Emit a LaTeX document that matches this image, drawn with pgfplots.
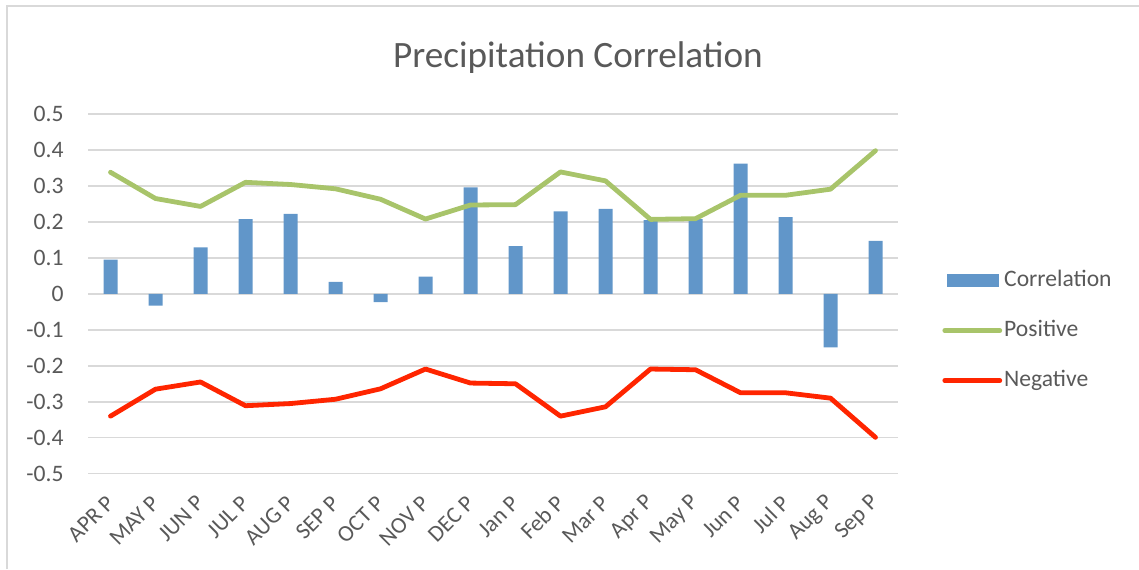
\documentclass[border=0pt]{standalone}
\usepackage{pgfplots}
\pgfplotsset{compat=1.18}
\usepackage{fontspec}
\setmainfont{Carlito}
\definecolor{barblue}{HTML}{6196C9}
\definecolor{posgreen}{HTML}{A8C46A}
\definecolor{negred}{HTML}{FF2500}
\definecolor{txtgrey}{HTML}{595959}
\definecolor{gridgrey}{HTML}{D9D9D9}
\begin{document}
\begin{tikzpicture}[x=1pt,y=1pt]
\path[use as bounding box] (0,0) rectangle (569.5,284.5);
\draw[gridgrey, line width=1pt] (3.5,0) -- (3.5,281.5) -- (569.5,281.5);
\node[anchor=base, text=txtgrey, font=\fontsize{18.6}{22}\selectfont, inner sep=0pt] at (289,251) {Precipitation Correlation};
\begin{axis}[
  at={(44pt,47.65pt)}, anchor=south west,
  scale only axis, width=405pt, height=179.85pt,
  xmin=-0.5, xmax=17.5, ymin=-0.5, ymax=0.5,
  axis line style={draw=none},
  major tick length=0pt,
  ymajorgrids, major grid style={gridgrey, line width=0.75pt},
  ytick={-0.5,-0.4,-0.3,-0.2,-0.1,0,0.1,0.2,0.3,0.4,0.5},
  yticklabels={-0.5,-0.4,-0.3,-0.2,-0.1,0,0.1,0.2,0.3,0.4,0.5},
  xtick={0,...,17},
  xticklabels={APR P,MAY P,JUN P,JUL P,AUG P,SEP P,OCT P,NOV P,DEC P,Jan P,Feb P,Mar P,Apr P,May P,Jun P,Jul P,Aug P,Sep P},
  ticklabel style={text=txtgrey, font=\fontsize{11.8}{13}\selectfont},
  yticklabel style={anchor=east, inner sep=0pt, xshift=-12pt},
  xticklabel style={rotate=45, anchor=east, inner sep=0pt, font=\fontsize{11.5}{12}\selectfont, xshift=-9pt, yshift=-9pt},
  legend style={at={(1.0543,0.398)}, anchor=west, draw=none, fill=none,
    inner sep=0pt, row sep=14.5pt,
    nodes={text=txtgrey, font=\fontsize{11.8}{13}\selectfont, inner xsep=1pt, inner ysep=0pt, text height=8pt, text depth=2.5pt}},
  legend cell align=left,
]
\addplot[ybar, bar width=7pt, fill=barblue, draw=none,
  legend image code/.code={\fill[barblue] (0pt,-3.25pt) rectangle (26pt,3.25pt);}]
  coordinates {(0,0.095) (1,-0.033) (2,0.129) (3,0.208) (4,0.222) (5,0.033) (6,-0.023) (7,0.048) (8,0.296) (9,0.133) (10,0.229) (11,0.236) (12,0.205) (13,0.208) (14,0.362) (15,0.213) (16,-0.149) (17,0.147)};
\addlegendentry{Correlation}
\addplot[posgreen, line width=2.4pt, mark=none, line join=round, line cap=round,
  legend image code/.code={\draw[posgreen, line width=2.4pt, line cap=round] (-1pt,0pt) -- (26.5pt,0pt);}]
  coordinates {(0,0.338) (1,0.265) (2,0.243) (3,0.310) (4,0.304) (5,0.292) (6,0.263) (7,0.208) (8,0.247) (9,0.248) (10,0.339) (11,0.314) (12,0.207) (13,0.209) (14,0.274) (15,0.274) (16,0.291) (17,0.398)};
\addlegendentry{Positive}
\addplot[negred, line width=2.4pt, mark=none, line join=round, line cap=round,
  legend image code/.code={\draw[negred, line width=2.4pt, line cap=round] (-1pt,0pt) -- (26.5pt,0pt);}]
  coordinates {(0,-0.340) (1,-0.265) (2,-0.245) (3,-0.311) (4,-0.305) (5,-0.293) (6,-0.264) (7,-0.209) (8,-0.248) (9,-0.250) (10,-0.340) (11,-0.314) (12,-0.209) (13,-0.211) (14,-0.275) (15,-0.275) (16,-0.290) (17,-0.399)};
\addlegendentry{Negative}
\end{axis}
\end{tikzpicture}
\end{document}
